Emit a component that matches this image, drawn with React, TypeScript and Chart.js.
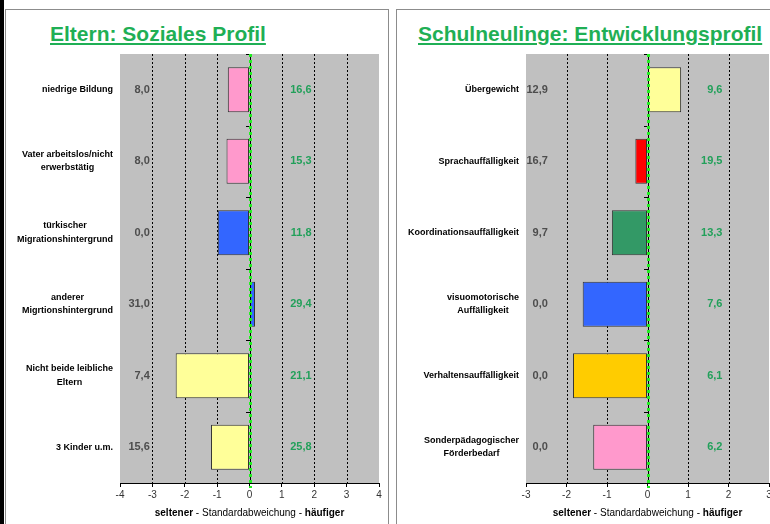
import React, { useEffect, useRef } from "react";
import { Chart, registerables } from "chart.js";

Chart.register(...registerables);

// ---------- Data ----------
const leftCategories: string[][] = [
  ["niedrige Bildung"],
  ["Vater arbeitslos/nicht", "erwerbstätig"],
  ["türkischer", "Migrationshintergrund"],
  ["anderer", "Migrtionshintergrund"],
  ["Nicht beide leibliche", "Eltern"],
  ["3 Kinder u.m."],
];
const leftValues: number[] = [-0.67, -0.71, -0.98, 0.17, -2.28, -1.19];
const leftLowLabels: string[] = ["8,0", "8,0", "0,0", "31,0", "7,4", "15,6"];
const leftHighLabels: string[] = ["16,6", "15,3", "11,8", "29,4", "21,1", "25,8"];
const leftColors: string[] = ["#FF99CC", "#FF99CC", "#3366FF", "#3366FF", "#FFFF99", "#FFFF99"];

const rightCategories: string[][] = [
  ["Übergewicht"],
  ["Sprachauffälligkeit"],
  ["Koordinationsauffälligkeit"],
  ["visuomotorische", "Auffälligkeit"],
  ["Verhaltensauffälligkeit"],
  ["Sonderpädagogischer", "Förderbedarf"],
];
const rightValues: number[] = [0.83, -0.3, -0.88, -1.6, -1.84, -1.34];
const rightLowLabels: string[] = ["12,9", "16,7", "9,7", "0,0", "0,0", "0,0"];
const rightHighLabels: string[] = ["9,6", "19,5", "13,3", "7,6", "6,1", "6,2"];
const rightColors: string[] = ["#FFFF99", "#FF0000", "#339966", "#3366FF", "#FFCC00", "#FF99CC"];

const FONT = "'Liberation Sans', Arial, Helvetica, sans-serif";

type PanelCfg = {
  categories: string[][];
  values: number[];
  low: string[];
  high: string[];
  colors: string[];
  min: number;
  max: number;
  yWidth: number;
  padRight: number;
  lowAt: number;
  highAt: number;
};

function makeChart(canvas: HTMLCanvasElement, cfg: PanelCfg) {
  const decor = {
    id: "decor",
    beforeDatasetsDraw(chart: any) {
      const { ctx, chartArea: a } = chart;
      const xs = chart.scales.x;
      ctx.save();
      ctx.fillStyle = "#C0C0C0";
      ctx.fillRect(a.left, a.top, a.right - a.left, a.bottom - a.top);
      // dotted gridlines
      ctx.strokeStyle = "#000";
      ctx.lineWidth = 1;
      ctx.setLineDash([2, 2]);
      for (let v = cfg.min + 1; v < cfg.max; v++) {
        if (v === 0) continue;
        const x = Math.round(xs.getPixelForValue(v)) + 0.5;
        ctx.beginPath();
        ctx.moveTo(x, a.top);
        ctx.lineTo(x, a.bottom);
        ctx.stroke();
      }
      ctx.setLineDash([]);
      // value labels
      const ys = chart.scales.y;
      ctx.font = `bold 11px ${FONT}`;
      ctx.textAlign = "right";
      ctx.textBaseline = "middle";
      cfg.low.forEach((t, i) => {
        ctx.fillStyle = "#4D4D4D";
        ctx.fillText(t, xs.getPixelForValue(cfg.lowAt), ys.getPixelForValue(i));
        ctx.fillStyle = "#22A05A";
        ctx.fillText(cfg.high[i], xs.getPixelForValue(cfg.highAt), ys.getPixelForValue(i));
      });
      // category labels (lines centered, block right-aligned)
      ctx.font = `bold 9px ${FONT}`;
      ctx.fillStyle = "#000";
      ctx.textAlign = "center";
      const right = a.left - 7;
      cfg.categories.forEach((lines, i) => {
        const w = Math.max(...lines.map((l) => ctx.measureText(l).width));
        const cx = right - w / 2;
        const cy = ys.getPixelForValue(i);
        const lh = 13.5;
        lines.forEach((l, k) => {
          ctx.fillText(l, cx, cy + (k - (lines.length - 1) / 2) * lh);
        });
      });
      // axis title
      const parts: [string, boolean][] = [
        ["seltener", true],
        [" - ", false],
        ["Standardabweichung", false],
        [" - ", false],
        ["häufiger", true],
      ];
      let total = 0;
      const widths = parts.map(([t, b]) => {
        ctx.font = `${b ? "bold " : ""}10px ${FONT}`;
        const w = ctx.measureText(t).width;
        total += w;
        return w;
      });
      let x = (a.left + a.right) / 2 - total / 2;
      ctx.textAlign = "left";
      ctx.fillStyle = "#000";
      parts.forEach(([t, b], k) => {
        ctx.font = `${b ? "bold " : ""}10px ${FONT}`;
        ctx.fillText(t, x, a.bottom + 30);
        x += widths[k];
      });
      ctx.restore();
    },
    afterDatasetsDraw(chart: any) {
      const { ctx, chartArea: a } = chart;
      const xs = chart.scales.x;
      const ys = chart.scales.y;
      const x0 = Math.round(xs.getPixelForValue(0));
      ctx.save();
      ctx.strokeStyle = "#000";
      ctx.lineWidth = 1;
      ctx.beginPath();
      ctx.moveTo(x0 + 0.5, a.top);
      ctx.lineTo(x0 + 0.5, a.bottom);
      for (let i = 0; i <= cfg.categories.length; i++) {
        const y = Math.round(ys.getPixelForValue(i - 0.5)) + 0.5;
        ctx.moveTo(x0 - 4, y);
        ctx.lineTo(x0, y);
      }
      ctx.stroke();
      ctx.strokeStyle = "#22EE22";
      ctx.lineWidth = 3;
      ctx.setLineDash([3, 3]);
      ctx.beginPath();
      ctx.moveTo(x0 + 0.5, a.top);
      ctx.lineTo(x0 + 0.5, a.bottom + 5);
      ctx.stroke();
      ctx.restore();
    },
  };

  return new Chart(canvas, {
    type: "bar",
    data: {
      labels: cfg.categories.map((c) => c.join(" ")),
      datasets: [
        {
          data: cfg.values,
          backgroundColor: cfg.colors,
          borderColor: "#333333",
          borderWidth: 1,
          borderSkipped: false,
          barPercentage: 0.63,
          categoryPercentage: 1,
        },
      ],
    },
    options: {
      indexAxis: "y",
      animation: false,
      responsive: false,
      maintainAspectRatio: false,
      layout: { padding: { top: 9, right: cfg.padRight, left: 0, bottom: 0 } },
      plugins: { legend: { display: false }, tooltip: { enabled: false }, title: { display: false } },
      scales: {
        x: {
          type: "linear",
          min: cfg.min,
          max: cfg.max,
          ticks: {
            stepSize: 1,
            color: "#333",
            font: { family: FONT, size: 10 },
            padding: 2,
            maxRotation: 0,
          },
          grid: {
            drawOnChartArea: false,
            drawTicks: true,
            tickLength: 4,
            tickColor: "#000",
          },
          border: { display: true, color: "#000", width: 1 },
          afterFit: (s: any) => {
            s.height = 41;
          },
        },
        y: {
          type: "category",
          ticks: { display: false },
          grid: { display: false },
          border: { display: false },
          afterFit: (s: any) => {
            s.width = cfg.yWidth;
          },
        },
      },
    } as any,
    plugins: [decor],
  });
}

function Panel({ cfg, width, height }: { cfg: PanelCfg; width: number; height: number }) {
  const ref = useRef<HTMLCanvasElement | null>(null);
  useEffect(() => {
    if (!ref.current) return;
    const c = makeChart(ref.current, cfg);
    return () => c.destroy();
  }, []);
  return <canvas ref={ref} width={width} height={height} style={{ display: "block", width, height }} />;
}

const leftCfg: PanelCfg = {
  categories: leftCategories,
  values: leftValues,
  low: leftLowLabels,
  high: leftHighLabels,
  colors: leftColors,
  min: -4,
  max: 4,
  yWidth: 115,
  padRight: 10,
  lowAt: -3.08,
  highAt: 1.92,
};

const rightCfg: PanelCfg = {
  categories: rightCategories,
  values: rightValues,
  low: rightLowLabels,
  high: rightHighLabels,
  colors: rightColors,
  min: -3,
  max: 3,
  yWidth: 129,
  padRight: 13,
  lowAt: -2.46,
  highAt: 1.85,
};

const titleStyle: React.CSSProperties = {
  position: "absolute",
  top: 22,
  fontFamily: FONT,
  fontWeight: "bold",
  fontSize: 21,
  lineHeight: "24px",
  color: "#1FAF55",
  textDecoration: "underline",
  whiteSpace: "nowrap",
};

export default function App() {
  return (
    <div
      style={{
        position: "fixed",
        left: 0,
        top: 0,
        width: 770,
        height: 524,
        overflow: "hidden",
        background: "#fff",
      }}
    >
      <div style={{ position: "absolute", left: 0, top: 0, width: 4, height: 524, background: "#000" }} />
      <div
        style={{
          position: "absolute",
          left: 5,
          top: 9,
          width: 384,
          height: 540,
          border: "1px solid #8C8C8C",
          boxSizing: "border-box",
        }}
      />
      <div
        style={{
          position: "absolute",
          left: 396,
          top: 9,
          width: 420,
          height: 540,
          border: "1px solid #8C8C8C",
          boxSizing: "border-box",
        }}
      />
      <div style={{ ...titleStyle, left: 50 }}>Eltern: Soziales Profil</div>
      <div style={{ ...titleStyle, left: 418 }}>Schulneulinge: Entwicklungsprofil</div>
      <div style={{ position: "absolute", left: 5, top: 45 }}>
        <Panel cfg={leftCfg} width={384} height={479} />
      </div>
      <div style={{ position: "absolute", left: 397, top: 45 }}>
        <Panel cfg={rightCfg} width={385} height={479} />
      </div>
    </div>
  );
}
